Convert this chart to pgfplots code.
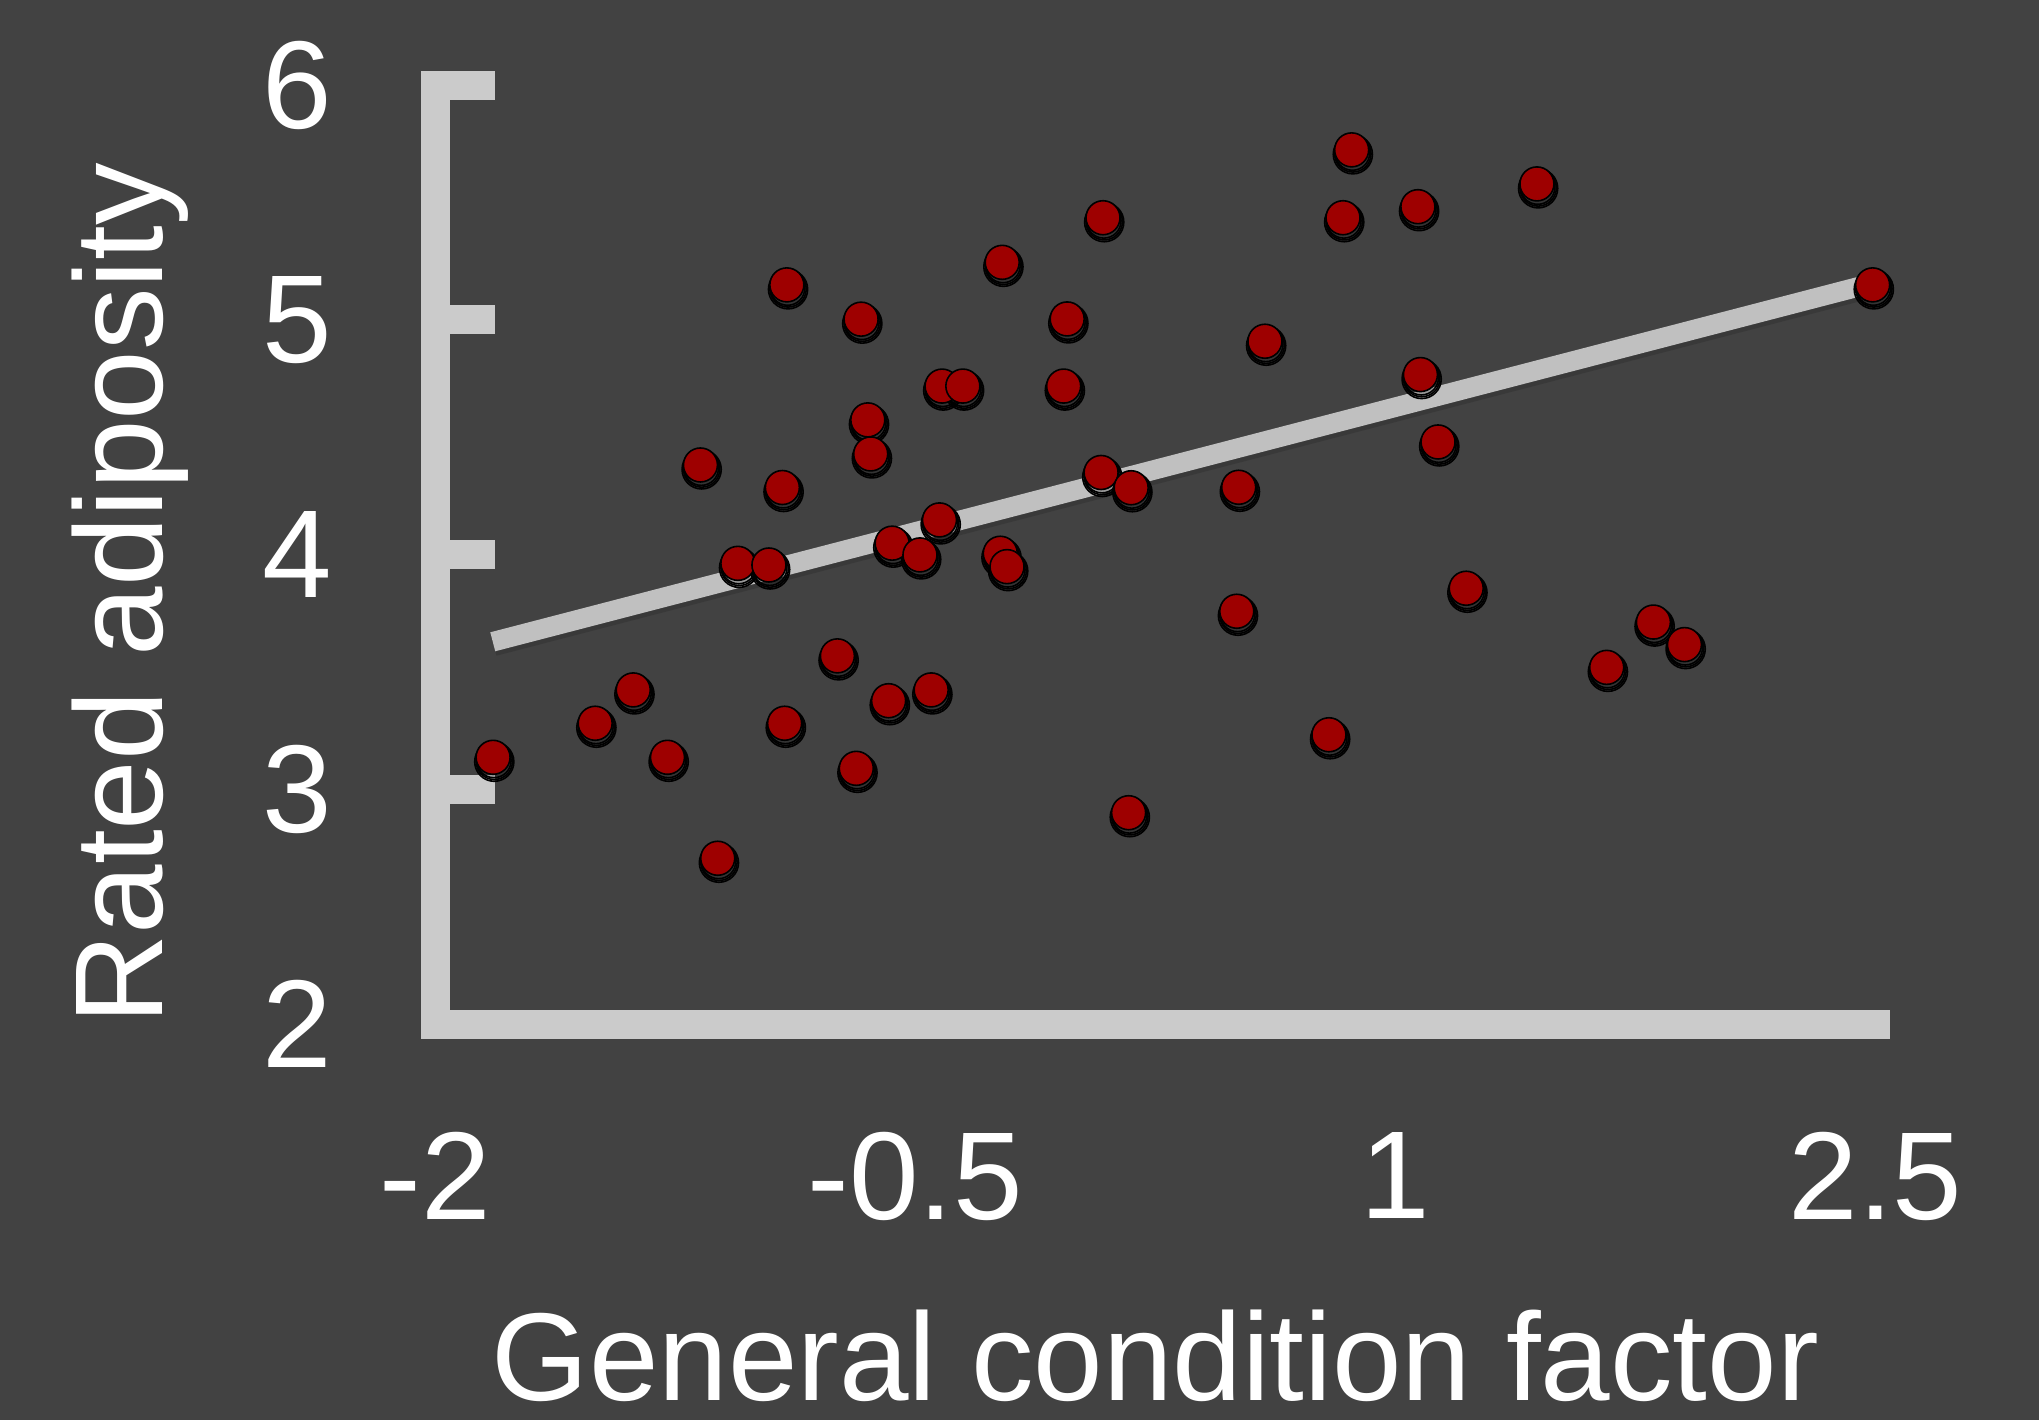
\documentclass[border=0pt]{standalone}
\usepackage{pgfplots}
\pgfplotsset{compat=1.18}
\usepackage{pgfplotstable}
\usepackage{fontspec}
\setmainfont{Liberation Sans}
\definecolor{bgcol}{RGB}{66,66,66}
\definecolor{axcol}{RGB}{203,203,203}
\definecolor{lncol}{RGB}{192,192,192}
\definecolor{dotcol}{RGB}{158,0,0}
\pgfplotstableread{
x y
-1.820 3.137
-1.501 3.282
-1.382 3.424
-1.275 3.137
-1.172 4.382
-1.118 2.707
-1.055 3.963
-0.958 3.956
-0.916 4.286
-0.909 3.282
-0.902 5.149
-0.744 3.569
-0.685 3.090
-0.670 5.003
-0.649 4.574
-0.640 4.429
-0.584 3.378
-0.573 4.049
-0.486 3.999
-0.451 3.424
-0.425 4.148
-0.417 4.718
-0.352 4.718
-0.229 5.245
-0.235 4.006
-0.214 3.949
-0.037 4.718
-0.026 5.004
0.086 5.435
0.080 4.350
0.174 4.285
0.166 2.901
0.504 3.759
0.510 4.287
0.592 4.909
0.792 3.233
0.836 5.435
0.863 5.724
1.070 5.482
1.078 4.767
1.133 4.480
1.221 3.857
1.442 5.579
1.660 3.520
1.806 3.713
1.903 3.617
2.491 5.149
}\pts
\begin{document}
\begin{tikzpicture}
\useasboundingbox (-108.875pt,-98.925pt) rectangle (400.875pt,256.075pt);
\fill[bgcol] (-108.875pt,-98.925pt) rectangle (400.875pt,256.075pt);
\begin{axis}[
 at={(0,0)}, anchor=south west,
 x=80pt, y=58.7pt,
 xmin=-2, xmax=2.5, ymin=2, ymax=6,
 axis lines*=left,
 axis line style={draw=axcol, line width=7.25pt, line cap=rect},
 clip=false,
 xtick={-2,-0.5,1,2.5}, xticklabels={-2,-0.5,1,2.5},
 ytick={2,3,4,5,6}, yticklabels={2,3,4,5,6},
 tick align=inside,
 major tick length=15pt,
 xtick style={draw=none},
 ytick style={draw=axcol, line width=7.25pt, line cap=butt},
 tick label style={font=\fontsize{31.25pt}{37pt}\selectfont, text=white, inner sep=0pt},
 xticklabel style={anchor=north, yshift=-26.9pt},
 yticklabel style={anchor=east, xshift=-25.75pt},
 label style={font=\fontsize{31.25pt}{37pt}\selectfont, text=white, inner sep=0pt},
 xlabel={General condition factor},
 ylabel={Rated adiposity},
 xlabel style={at={(axis description cs:0.5,-0.4010)}, anchor=base},
 ylabel style={at={(axis description cs:-0.1899,0.4584)}, anchor=base},
]
\addplot[only marks, mark=*, mark size=4.9pt, mark options={draw=none, fill=black, fill opacity=0.05, xshift=0.3pt, yshift=-1.1pt}] table {\pts};
\addplot[only marks, mark=*, mark size=4.55pt, mark options={draw=none, fill=black, fill opacity=0.07, xshift=0.3pt, yshift=-1pt}] table {\pts};
\addplot[only marks, mark=*, mark size=4.3pt, mark options={draw=none, fill=black, fill opacity=0.09, xshift=0.2pt, yshift=-0.8pt}] table {\pts};
\addplot[only marks, mark=*, mark size=4.25pt, mark options={draw=none, fill=dotcol}] table {\pts};
\addplot[no marks, draw=black, draw opacity=0.12, line width=5.4pt, line cap=butt] coordinates {(-1.818,3.614) (2.490,5.140)};
\addplot[no marks, draw=lncol, line width=4.9pt, line cap=butt] coordinates {(-1.821,3.629) (2.487,5.155)};
\end{axis}
\end{tikzpicture}
\end{document}
